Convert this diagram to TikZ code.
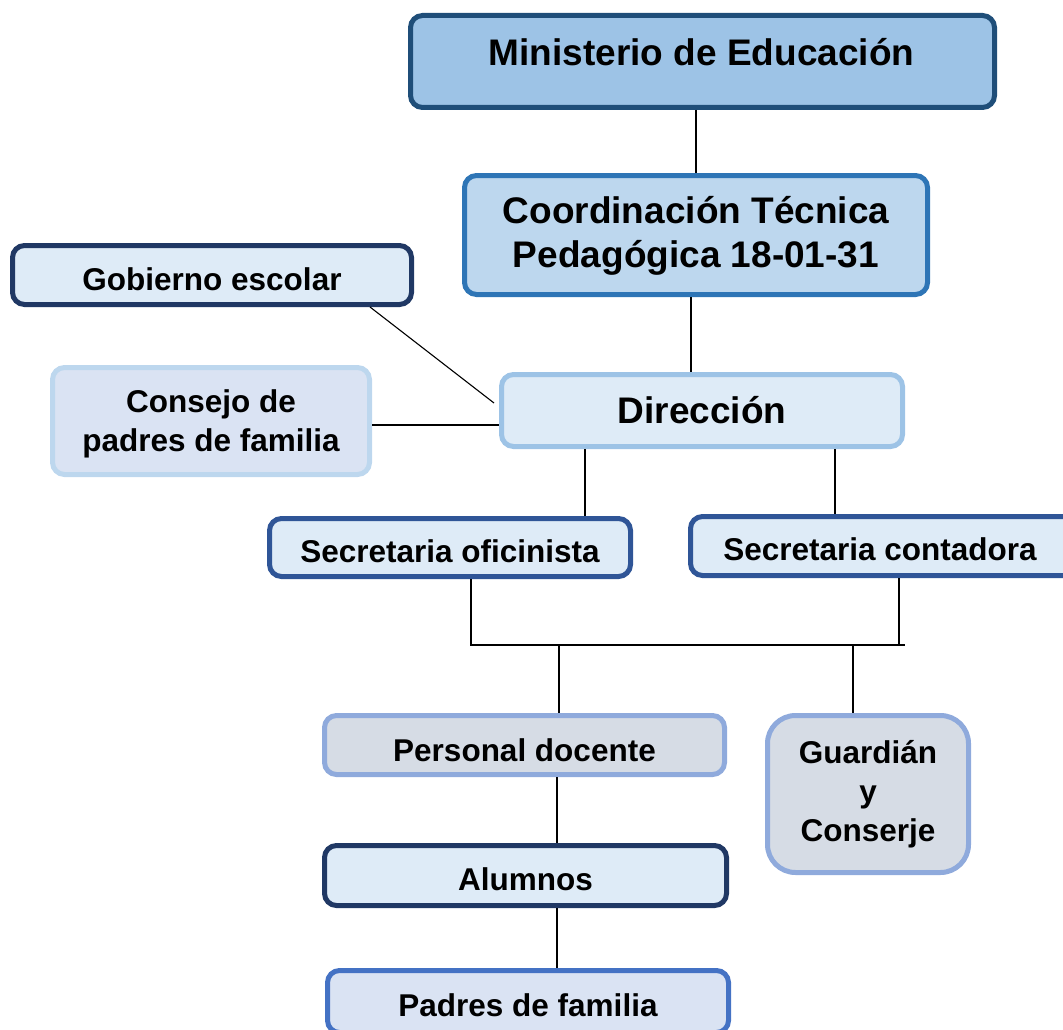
\documentclass[tikz,border=0pt]{standalone}
\usepackage{fontspec}
\setmainfont{Liberation Sans}
\begin{document}
\begin{tikzpicture}[x=1pt,y=-1pt,
  box/.style={draw, line width=5pt, rounded corners=12pt, inner sep=0pt},
  big/.style={font=\bfseries\fontsize{37}{44}\selectfont, align=center},
  small/.style={font=\bfseries\fontsize{31.5}{39}\selectfont, align=center},
  conn/.style={draw=black, line width=1.1pt}]
\definecolor{cMinB}{HTML}{1F4E79}\definecolor{cMinF}{HTML}{9DC3E6}
\definecolor{cCoB}{HTML}{2E75B6}\definecolor{cCoF}{HTML}{BDD7EE}
\definecolor{cNavy}{HTML}{203864}\definecolor{cPale}{HTML}{DEEBF7}
\definecolor{cLav}{HTML}{DAE3F3}\definecolor{cSecB}{HTML}{2F5597}
\definecolor{cPdB}{HTML}{8FAADC}\definecolor{cPdF}{HTML}{D6DCE5}
\definecolor{cPaB}{HTML}{4472C4}
\useasboundingbox (0,0) rectangle (1063,1030);
\clip (0,0) rectangle (1063,1030);
% boxes
\node[box, draw=cMinB, fill=cMinF, minimum width=584pt, minimum height=92pt] (min) at (702.5,61.5) {};
\node[box, draw=cCoB, fill=cCoF, minimum width=463pt, minimum height=119pt] (coord) at (696,235) {};
\node[box, draw=cNavy, fill=cPale, minimum width=399pt, minimum height=59pt] (gob) at (212,275) {};
\node[box, draw=cCoF, fill=cLav, minimum width=317pt, minimum height=107pt] (cons) at (211,421) {};
\node[box, draw=cMinF, fill=cPale, minimum width=401pt, minimum height=72pt] (dir) at (702,410.5) {};
\node[box, draw=cSecB, fill=cPale, minimum width=361pt, minimum height=58pt] (secof) at (450,547.5) {};
\node[box, draw=cSecB, fill=cPale, minimum width=396pt, minimum height=59pt] (secc) at (888.5,546) {};
\node[box, draw=cPdB, fill=cPdF, minimum width=400pt, minimum height=59pt] (pd) at (524.5,745) {};
\node[box, draw=cPdB, fill=cPdF, rounded corners=28pt, minimum width=201pt, minimum height=157pt] (guard) at (868,794) {};
\node[box, draw=cNavy, fill=cPale, minimum width=402pt, minimum height=60pt] (alum) at (525.5,875.5) {};
\node[box, draw=cPaB, fill=cLav, minimum width=401pt, minimum height=62pt] (padres) at (528,1001.5) {};
% texts
\node[big, anchor=base] (tmin) at (701.5,66) {Ministerio de Educación};
\node[big] (tcoord) at (696,236) {Coordinación Técnica\\Pedagógica 18-01-31};
\node[small, anchor=base] (tgob) at (212,290) {Gobierno escolar};
\node[small] (tcons) at (211,423.5) {Consejo de\\padres de familia};
\node[big, anchor=base] (tdir) at (702,423) {Dirección};
\node[small, anchor=base] (tsecof) at (450,562) {Secretaria oficinista};
\node[small, anchor=base] (tsecc) at (880,560) {Secretaria contadora};
\node[small, anchor=base] (tpd) at (524.5,761) {Personal docente};
\node[small] (tguard) at (868,794) {Guardián\\y\\Conserje};
\node[small, anchor=base] (talum) at (525.5,890) {Alumnos};
\node[small, anchor=base] (tpadres) at (528,1016) {Padres de familia};
% connectors
\coordinate (busR) at (905,645);
\draw[conn] (min.south -| coord.north) -- (coord.north);
\draw[conn] ([xshift=-5pt]coord.south) -- ([xshift=-5pt]coord.south |- dir.north);
\draw[conn] ([xshift=158pt]gob.south) -- ([xshift=-5pt,yshift=7.5pt]dir.west);
\draw[conn] ([yshift=-4pt]cons.east) -- ([yshift=-4pt]cons.east -| dir.west);
\draw[conn] ([xshift=-117pt]dir.south) -- ([xshift=-117pt]dir.south |- secof.north);
\draw[conn] ([xshift=133pt]dir.south) -- ([xshift=133pt]dir.south |- secc.north);
\draw[conn] ([xshift=21pt]secof.south) |- (busR);
\draw[conn] ([xshift=10.5pt]secc.south) -- ([xshift=10.5pt]secc.south |- busR);
\draw[conn] ([xshift=34.5pt]pd.north |- busR) -- ([xshift=34.5pt]pd.north);
\draw[conn] ([xshift=-15pt]guard.north |- busR) -- ([xshift=-15pt]guard.north);
\draw[conn] ([xshift=32.5pt]pd.south) -- ([xshift=32.5pt]pd.south |- alum.north);
\draw[conn] ([xshift=31.5pt]alum.south) -- ([xshift=31.5pt]alum.south |- padres.north);
\end{tikzpicture}
\end{document}
